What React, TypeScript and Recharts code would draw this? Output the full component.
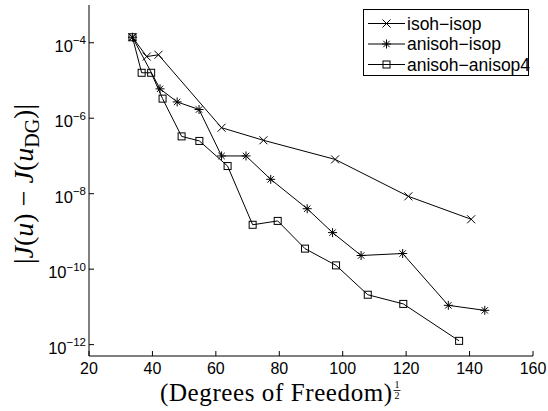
import React from 'react';
import { LineChart, Line, XAxis, YAxis, Legend } from 'recharts';

const xTicks = [20, 40, 60, 80, 100, 120, 140, 160];
const yTicks = [1e-12, 1e-10, 1e-8, 1e-6, 1e-4];

const seriesNames = ['isoh−isop', 'anisoh−isop', 'anisoh−anisop4'];

const isohIsopDof = [33.7, 38.2, 41.9, 61.8, 75.0, 97.6, 120.7, 140.5];
const isohIsopErr = [1.4e-4, 4.3e-5, 4.8e-5, 5.6e-7, 2.6e-7, 8.1e-8, 8.5e-9, 2.1e-9];

const anisohIsopDof = [33.7, 42.4, 47.8, 54.7, 61.8, 69.5, 77.3, 88.8, 96.8, 105.8, 118.9, 133.3, 144.8];
const anisohIsopErr = [1.4e-4, 6.0e-6, 2.7e-6, 1.7e-6, 1.0e-7, 1.0e-7, 2.4e-8, 4.0e-9, 9.3e-10, 2.3e-10, 2.6e-10, 1.1e-11, 8.1e-12];

const anisop4Dof = [33.7, 36.6, 39.6, 43.2, 49.2, 54.8, 63.7, 71.6, 79.5, 88.1, 97.9, 107.9, 119.1, 136.7];
const anisop4Err = [1.4e-4, 1.6e-5, 1.6e-5, 3.3e-6, 3.3e-7, 2.5e-7, 5.4e-8, 1.5e-9, 1.9e-9, 3.5e-10, 1.26e-10, 2.1e-11, 1.2e-11, 1.26e-12];

const zip = (xs: number[], ys: number[]) => xs.map((x, i) => ({ x, y: ys[i] }));

const isohIsopData = zip(isohIsopDof, isohIsopErr);
const anisohIsopData = zip(anisohIsopDof, anisohIsopErr);
const anisop4Data = zip(anisop4Dof, anisop4Err);

const SANS = '"Liberation Sans", Arial, Helvetica, sans-serif';
const SERIF = '"Liberation Serif", "Times New Roman", serif';

type Kind = 'x' | '*' | 's';

function Marker({ kind, cx, cy }: { kind: Kind; cx: number; cy: number }) {
  if (kind === 'x') {
    const r = 4;
    return (
      <path
        d={`M${cx - r},${cy - r}L${cx + r},${cy + r}M${cx - r},${cy + r}L${cx + r},${cy - r}`}
        stroke="#000"
        strokeWidth={1}
        fill="none"
      />
    );
  }
  if (kind === '*') {
    const r = 4.5;
    const d = 3.2;
    return (
      <path
        d={`M${cx - r},${cy}L${cx + r},${cy}M${cx},${cy - r}L${cx},${cy + r}M${cx - d},${cy - d}L${cx + d},${cy + d}M${cx - d},${cy + d}L${cx + d},${cy - d}`}
        stroke="#000"
        strokeWidth={1}
        fill="none"
      />
    );
  }
  return <rect x={cx - 3.5} y={cy - 3.5} width={7} height={7} stroke="#000" strokeWidth={1} fill="none" />;
}

const makeDot = (kind: Kind) => (props: any) => {
  const { cx, cy, index } = props;
  if (cx == null || cy == null) return <g key={`${kind}-${index}`} />;
  return <Marker key={`${kind}-${index}`} kind={kind} cx={cx} cy={cy} />;
};

const BottomTick = (props: any) => {
  const { x, y, payload } = props;
  return (
    <g>
      <line x1={x} y1={y} x2={x} y2={y - 5} stroke="#000" strokeWidth={1} />
      <text x={x} y={y + 18} textAnchor="middle" fontFamily={SANS} fontSize={16} fill="#000">
        {payload.value}
      </text>
    </g>
  );
};

const TopTick = (props: any) => {
  const { x, y } = props;
  return <line x1={x} y1={y} x2={x} y2={y + 5} stroke="#000" strokeWidth={1} />;
};

const LeftTick = (props: any) => {
  const { x, y, payload } = props;
  const exp = Math.round(Math.log10(payload.value));
  return (
    <g>
      <line x1={x} y1={y} x2={x + 5} y2={y} stroke="#000" strokeWidth={1} />
      <text x={x - 3} y={y + 9} textAnchor="end" fontFamily={SANS} fontSize={16.5} fill="#000">
        <tspan>10</tspan>
        <tspan dy={-7.5} fontSize={11.5}>{`−${Math.abs(exp)}`}</tspan>
      </text>
    </g>
  );
};

const RightTick = (props: any) => {
  const { x, y } = props;
  return <line x1={x} y1={y} x2={x - 5} y2={y} stroke="#000" strokeWidth={1} />;
};

const XLabel = () => (
  <g>
    <text x={160} y={401} fontFamily={SERIF} fontSize={25} letterSpacing={0.6} fill="#000">
      (Degrees of Freedom)
    </text>
    <text x={397} y={388} textAnchor="middle" fontFamily={SERIF} fontSize={10} fill="#000">1</text>
    <line x1={393.5} y1={390.5} x2={400.5} y2={390.5} stroke="#000" strokeWidth={0.8} />
    <text x={397} y={399} textAnchor="middle" fontFamily={SERIF} fontSize={10} fill="#000">2</text>
  </g>
);

const YLabel = () => (
  <text
    x={33}
    y={184}
    transform="rotate(-90, 33, 184)"
    textAnchor="middle"
    fontFamily={SERIF}
    fontSize={28}
    fill="#000"
  >
    <tspan>|</tspan>
    <tspan fontStyle="italic">J</tspan>
    <tspan>(</tspan>
    <tspan fontStyle="italic">u</tspan>
    <tspan>) − </tspan>
    <tspan fontStyle="italic">J</tspan>
    <tspan>(</tspan>
    <tspan fontStyle="italic">u</tspan>
    <tspan dy={6} fontSize={20}>DG</tspan>
    <tspan dy={-6}>)|</tspan>
  </text>
);

const kinds: Kind[] = ['x', '*', 's'];

const LegendBox = () => (
  <svg width={167} height={68} style={{ display: 'block' }}>
    <rect x={0.5} y={0.5} width={165} height={66} fill="#fff" stroke="#000" strokeWidth={1} />
    {seriesNames.map((name, i) => {
      const cy = 14.5 + i * 20.5;
      return (
        <g key={name}>
          <line x1={5} y1={cy} x2={42} y2={cy} stroke="#000" strokeWidth={1} />
          <Marker kind={kinds[i]} cx={23.5} cy={cy} />
          <text x={44} y={cy + 6} fontFamily={SANS} fontSize={17.5} fill="#000">
            {name}
          </text>
        </g>
      );
    })}
  </svg>
);

export default function App() {
  return (
    <div style={{ position: 'absolute', left: 0, top: 0, width: 548, height: 411, background: '#fff' }}>
      <LineChart width={548} height={411} margin={{ top: 5, right: 15, bottom: 15, left: 9 }}>
        <XAxis
          xAxisId="b"
          type="number"
          dataKey="x"
          orientation="bottom"
          domain={[20, 160]}
          ticks={xTicks}
          allowDataOverflow
          height={40}
          tickSize={0}
          tickMargin={0}
          tickLine={false}
          tick={BottomTick}
          axisLine={{ stroke: '#000', strokeWidth: 1 }}
          label={<XLabel />}
        />
        <XAxis
          xAxisId="t"
          type="number"
          dataKey="x"
          orientation="top"
          domain={[20, 160]}
          ticks={xTicks}
          allowDataOverflow
          height={0}
          tickSize={0}
          tickMargin={0}
          tickLine={false}
          tick={TopTick}
          axisLine={{ stroke: '#000', strokeWidth: 1 }}
        />
        <YAxis
          yAxisId="l"
          type="number"
          dataKey="y"
          scale="log"
          orientation="left"
          domain={[5e-13, 1e-3]}
          ticks={yTicks}
          allowDataOverflow
          width={80}
          tickSize={0}
          tickMargin={0}
          tickLine={false}
          tick={LeftTick}
          axisLine={{ stroke: '#000', strokeWidth: 1 }}
          label={<YLabel />}
        />
        <YAxis
          yAxisId="r"
          type="number"
          dataKey="y"
          scale="log"
          orientation="right"
          domain={[5e-13, 1e-3]}
          ticks={yTicks}
          allowDataOverflow
          width={0}
          tickSize={0}
          tickMargin={0}
          tickLine={false}
          tick={RightTick}
          axisLine={{ stroke: '#000', strokeWidth: 1 }}
        />
        <Legend
          layout="vertical"
          align="center"
          verticalAlign="middle"
          wrapperStyle={{ position: 'absolute', left: 363, top: 9, width: 167, height: 68, margin: 0, padding: 0, lineHeight: 0 }}
          content={() => <LegendBox />}
        />
        <Line
          xAxisId="b"
          yAxisId="l"
          data={isohIsopData}
          dataKey="y"
          name={seriesNames[0]}
          stroke="#000"
          strokeWidth={1}
          dot={makeDot('x')}
          activeDot={false}
          isAnimationActive={false}
        />
        <Line
          xAxisId="b"
          yAxisId="l"
          data={anisohIsopData}
          dataKey="y"
          name={seriesNames[1]}
          stroke="#000"
          strokeWidth={1}
          dot={makeDot('*')}
          activeDot={false}
          isAnimationActive={false}
        />
        <Line
          xAxisId="b"
          yAxisId="l"
          data={anisop4Data}
          dataKey="y"
          name={seriesNames[2]}
          stroke="#000"
          strokeWidth={1}
          dot={makeDot('s')}
          activeDot={false}
          isAnimationActive={false}
        />
      </LineChart>
    </div>
  );
}
